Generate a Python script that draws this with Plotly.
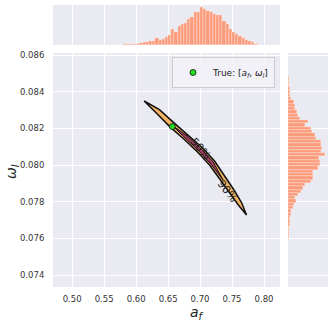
import plotly.graph_objects as go

# marginal histogram of a_f (bin centres, counts)
af_centers = [0.5675, 0.5725, 0.5775, 0.5825, 0.5875, 0.5925, 0.5975, 0.6025, 0.6075, 0.6125,
              0.6175, 0.6225, 0.6275, 0.6325, 0.6375, 0.6425, 0.6475, 0.6525, 0.6575, 0.6625,
              0.6675, 0.6725, 0.6775, 0.6825, 0.6875, 0.6925, 0.6975, 0.7025, 0.7075, 0.7125,
              0.7175, 0.7225, 0.7275, 0.7325, 0.7375, 0.7425, 0.7475, 0.7525, 0.7575, 0.7625,
              0.7675, 0.7725, 0.7775, 0.7825, 0.7875, 0.7925]
af_counts = [1, 1, 1, 2, 3, 4, 4, 4, 5, 8, 10, 11, 13, 20, 14, 18, 25, 30, 47, 40,
             57, 62, 67, 78, 85, 99, 100, 113, 107, 102, 100, 92, 90, 90, 73, 62, 48, 38, 33, 28,
             22, 14, 13, 8, 3, 1]

# marginal histogram of omega_l
wl_centers = [0.08470, 0.08452, 0.08434, 0.08416, 0.08398, 0.08380, 0.08362, 0.08344, 0.08326, 0.08308,
              0.08290, 0.08272, 0.08254, 0.08236, 0.08218, 0.08200, 0.08182, 0.08164, 0.08146, 0.08128,
              0.08110, 0.08092, 0.08074, 0.08056, 0.08038, 0.08020, 0.08002, 0.07984, 0.07966, 0.07948,
              0.07930, 0.07912, 0.07894, 0.07876, 0.07858, 0.07840, 0.07822, 0.07804, 0.07786, 0.07768,
              0.07750, 0.07732, 0.07714, 0.07696, 0.07678, 0.07660, 0.07642, 0.07624, 0.07606, 0.07588,
              0.07570]
wl_counts = [2, 3, 4, 5, 6, 7, 10, 18, 20, 22, 27, 30, 35, 60, 52, 70, 72, 80, 85, 98,
             100, 102, 100, 110, 93, 95, 97, 90, 75, 75, 75, 68, 52, 45, 38, 30, 22, 24, 18, 15,
             10, 8, 6, 6, 5, 4, 3, 3, 2, 1, 1]

# credible region outlines (a_f, omega_l)
af_90 = [0.61250, 0.63641, 0.65922, 0.68125, 0.70359, 0.72266, 0.73828, 0.75359, 0.76516, 0.77266,
         0.75984, 0.74641, 0.73047, 0.71484, 0.69641, 0.67500, 0.65328, 0.63234, 0.61250]
wl_90 = [0.083493, 0.083025, 0.082300, 0.081651, 0.080948, 0.080223, 0.079444, 0.078616, 0.077935, 0.077281,
         0.077826, 0.078452, 0.079259, 0.080005, 0.080697, 0.081411, 0.082071, 0.082812, 0.083493]
af_50 = [0.65469, 0.67969, 0.70172, 0.72063, 0.73594, 0.71688, 0.69828, 0.67656, 0.65469]
wl_50 = [0.082213, 0.081591, 0.080883, 0.080169, 0.079188, 0.080060, 0.080763, 0.081471, 0.082213]

true_af = [0.6567]
true_wl = [0.0821]

af_ticks = [0.50, 0.55, 0.60, 0.65, 0.70, 0.75, 0.80]
wl_ticks = [0.074, 0.076, 0.078, 0.080, 0.082, 0.084, 0.086]

W, H = 333, 324
bg = '#EAEAF2'
bar_col = '#FC9B79'
tick_font = dict(family='DejaVu Sans', size=8.5, color='#333333')

def px(x0, x1):
    return [x0 / W, x1 / W]

def py(y0, y1):
    return [1 - y1 / H, 1 - y0 / H]

fig = go.Figure()

fig.add_trace(go.Scatter(x=af_90, y=wl_90, mode='lines', fill='toself', fillcolor='#F4B466',
                         line=dict(color='#111111', width=1.5), hoverinfo='skip', showlegend=False))
fig.add_trace(go.Scatter(x=af_50, y=wl_50, mode='lines', fill='toself', fillcolor='#A33A68',
                         line=dict(color='#111111', width=1.0), hoverinfo='skip', showlegend=False))
fig.add_trace(go.Scatter(x=true_af, y=true_wl, mode='markers', name='True: [<i>a<sub>f</sub></i>, <i>ω<sub>l</sub></i>]',
                         marker=dict(color='#22DD22', size=6, line=dict(color='#111111', width=0.8))))

fig.add_trace(go.Bar(x=af_centers, y=af_counts, width=0.005, marker=dict(color=bar_col, line=dict(color='white', width=0.3)),
                     xaxis='x2', yaxis='y2', showlegend=False))
fig.add_trace(go.Bar(y=wl_centers, x=wl_counts, width=0.00018, orientation='h',
                     marker=dict(color=bar_col, line=dict(color='white', width=0.3)),
                     xaxis='x3', yaxis='y3', showlegend=False))

grid = dict(showgrid=True, gridcolor='white', gridwidth=1, zeroline=False, showline=False, automargin=False)
bare = dict(showticklabels=False, showgrid=False, zeroline=False, showline=False, ticks='', automargin=False)

fig.update_layout(
    template='none',
    width=W, height=H,
    margin=dict(l=0, r=0, t=0, b=0, pad=0),
    paper_bgcolor='white', plot_bgcolor=bg,
    bargap=0,
    font=dict(family='DejaVu Sans', color='#222222'),
    xaxis=dict(domain=px(53, 280), range=[0.470, 0.825], tickvals=af_ticks,
               tickformat='.2f', ticks='outside', ticklen=4, tickcolor='rgba(0,0,0,0)', tickfont=tick_font, **grid),
    yaxis=dict(domain=py(53, 287), range=[0.073357, 0.086109], tickvals=wl_ticks, tickformat='.3f',
               ticks='outside', ticklen=6, tickcolor='rgba(0,0,0,0)', tickfont=tick_font, **grid),
    xaxis2=dict(domain=px(53, 280), range=[0.470, 0.825], anchor='y2', showticklabels=False, ticks='',
                tickvals=af_ticks, **grid),
    yaxis2=dict(domain=py(5, 45), range=[0, 120], anchor='x2', **bare),
    xaxis3=dict(domain=px(288, 328), range=[0, 120], anchor='y3', **bare),
    yaxis3=dict(domain=py(53, 287), range=[0.073357, 0.086109], anchor='x3', showticklabels=False, ticks='',
                tickvals=wl_ticks, **grid),
    legend=dict(x=172 / W, y=1 - 57 / H, xanchor='left', yanchor='top', bgcolor='rgba(242,242,247,0.9)',
                bordercolor='#CCCCCC', borderwidth=1, font=dict(family='DejaVu Sans', size=9, color='#222222'),
                itemwidth=30, tracegroupgap=0),
    showlegend=True,
)

fig.add_annotation(text='50%', x=0.700, y=0.08088, xref='x', yref='y', showarrow=False, textangle=48,
                   xanchor='center', yanchor='middle',
                   font=dict(family='DejaVu Sans', size=11, color='#1a1a1a'))
fig.add_annotation(text='90%', x=0.7414, y=0.07859, xref='x', yref='y', showarrow=False, textangle=52,
                   xanchor='center', yanchor='middle',
                   font=dict(family='DejaVu Sans', size=11, color='#1a1a1a'))

fig.add_annotation(text='<i>a<sub>f</sub></i>', x=197 / W, y=1 - 313 / H, xref='paper', yref='paper',
                   xanchor='center', yanchor='middle', showarrow=False,
                   font=dict(family='DejaVu Sans', size=14, color='#222222'))
fig.add_annotation(text='<i>ω<sub>l</sub></i>', x=12 / W, y=1 - 172 / H, xref='paper', yref='paper',
                   xanchor='center', yanchor='middle', showarrow=False, textangle=-90,
                   font=dict(family='DejaVu Sans', size=14, color='#222222'))

# the page body has an 8px default margin; drop it so the figure fills the window
fig.write_html("out.html", config={'displayModeBar': False},
               post_script="document.body.style.margin='0';")
